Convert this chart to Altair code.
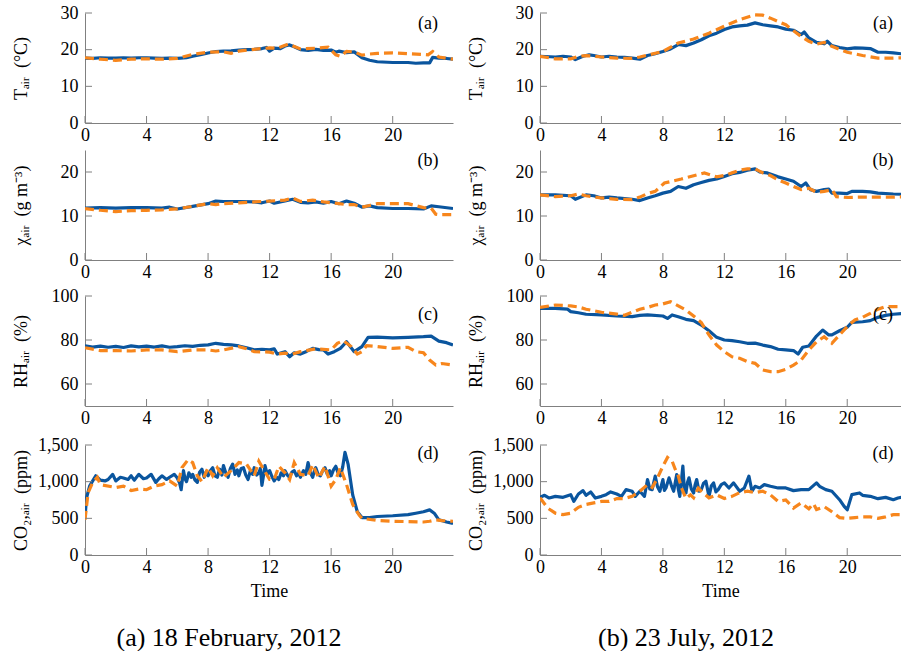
import altair as alt
import pandas as pd

BLUE = "#0a559e"
ORANGE = "#f7861c"
GRAY = "#808080"
FONT = "Liberation Serif"

XTICKS = [0, 4, 8, 12, 16, 20]

# ---------------- 18 February 2012 (left column) ----------------
feb_T_meas_h = [0, 0.5, 1, 1.5, 2, 2.5, 3, 3.5, 4, 4.5, 5, 5.5, 6, 6.6, 7, 7.5, 8, 8.5, 9, 9.5, 10, 10.5, 11, 11.5, 11.8, 12, 12.3, 12.7, 13, 13.3, 13.6, 14, 14.5, 15, 15.5, 16, 16.3, 16.5, 17, 17.5, 18, 18.5, 19, 20, 21, 21.5, 22, 22.4, 22.6, 23, 23.5, 23.92]
feb_T_meas_v = [17.7, 17.6, 17.8, 17.7, 17.7, 17.8, 17.7, 17.8, 17.8, 17.7, 17.6, 17.7, 17.6, 17.8, 18.2, 18.6, 19.1, 19.5, 19.6, 19.7, 19.9, 20.0, 20.1, 20.3, 20.6, 19.6, 20.4, 20.3, 21.0, 21.3, 20.8, 20.0, 19.8, 20.1, 19.8, 19.9, 19.3, 19.6, 19.2, 19.4, 17.8, 17.1, 16.7, 16.5, 16.5, 16.3, 16.4, 16.4, 17.9, 17.7, 17.6, 17.4]
feb_T_sim_h = [0, 1, 2, 3, 4, 5, 6, 7, 8, 9, 9.5, 10, 11, 12, 12.5, 13.2, 14, 15, 15.8, 16.3, 16.6, 17, 17.5, 18, 18.5, 19, 20, 21, 22, 22.3, 22.6, 23, 23.92]
feb_T_sim_v = [17.8, 17.4, 17.1, 17.4, 17.5, 17.4, 17.6, 18.7, 19.3, 19.4, 19.0, 19.6, 20.1, 20.5, 20.4, 21.5, 20.2, 20.4, 20.7, 18.6, 18.2, 19.5, 19.4, 18.5, 18.8, 19.0, 19.1, 18.9, 18.7, 18.6, 19.5, 18.0, 17.4]

feb_X_meas_h = [0, 1, 2, 3, 4, 5, 5.5, 6, 7, 8, 8.5, 9, 10, 11, 11.5, 12, 12.3, 13, 13.5, 14, 14.5, 15, 15.5, 16, 16.5, 17, 17.5, 18, 18.5, 19, 20, 21, 22, 22.5, 23, 23.92]
feb_X_meas_v = [11.8, 11.9, 11.8, 11.9, 11.9, 11.8, 12.0, 11.6, 12.2, 12.8, 13.4, 13.3, 13.3, 13.2, 13.0, 13.4, 12.9, 13.4, 13.8, 13.1, 13.0, 13.2, 12.9, 13.3, 12.8, 13.4, 12.9, 12.0, 12.3, 11.9, 11.7, 11.7, 11.6, 12.3, 12.1, 11.7]
feb_X_sim_h = [0, 1, 2, 3, 4, 5, 6, 7, 8, 8.5, 9, 10, 11, 12, 13, 13.5, 14, 14.8, 15.5, 16, 16.5, 17, 17.5, 18, 18.5, 19, 20, 21, 22, 22.5, 22.8, 23, 23.92]
feb_X_sim_v = [11.7, 11.3, 11.0, 11.2, 11.3, 11.4, 11.6, 12.2, 12.8, 12.6, 12.8, 13.0, 13.2, 13.4, 13.6, 14.1, 13.3, 13.6, 13.2, 13.0, 12.8, 12.6, 12.6, 12.0, 12.4, 12.8, 12.8, 12.8, 11.9, 11.8, 10.4, 10.3, 10.3]

feb_RH_meas_h = [0, 0.5, 1, 1.5, 2, 2.5, 3, 3.5, 4, 4.5, 5, 5.5, 6, 6.5, 7, 7.5, 8, 8.5, 9, 9.5, 10, 10.5, 11, 11.5, 12, 12.3, 12.5, 13, 13.3, 13.6, 14, 14.4, 14.8, 15.2, 15.5, 15.8, 16.2, 16.6, 17, 17.5, 18, 18.4, 19, 20, 21, 22, 22.5, 23, 23.5, 23.92]
feb_RH_meas_v = [77.3, 76.8, 77.2, 76.7, 77.1, 76.6, 77.3, 76.9, 77.2, 76.8, 77.3, 76.7, 77.0, 77.4, 77.1, 77.6, 77.8, 78.5, 78.0, 77.8, 77.3, 76.5, 75.5, 75.8, 75.5, 76.0, 73.6, 74.7, 72.4, 74.2, 73.6, 74.8, 76.2, 75.6, 75.5, 73.6, 74.7, 76.2, 79.2, 74.7, 77.0, 81.2, 81.3, 81.0, 81.2, 81.5, 81.8, 79.5, 78.8, 77.7]
feb_RH_sim_h = [0, 1, 2, 3, 4, 5, 6, 7, 8, 8.5, 9, 10, 10.5, 11, 12, 12.5, 13, 13.5, 14, 15, 16, 16.4, 16.8, 17.3, 17.7, 18, 18.3, 19, 20, 21, 21.5, 22, 22.4, 22.8, 23.2, 23.92]
feb_RH_sim_v = [76.5, 75.2, 75.2, 75.0, 75.5, 75.5, 74.7, 75.5, 75.5, 75.0, 75.5, 77.0, 76.0, 74.7, 74.5, 73.6, 74.0, 73.6, 74.7, 76.0, 75.5, 78.5, 79.7, 77.0, 73.6, 74.7, 77.4, 77.0, 76.2, 76.7, 74.7, 74.2, 70.9, 68.6, 69.3, 68.6]

feb_CO2_meas_h = [0, 0.1, 0.3, 0.5, 0.7, 1, 1.3, 1.5, 1.8, 2, 2.3, 2.5, 2.8, 3, 3.2, 3.5, 3.8, 4, 4.3, 4.6, 4.8, 5, 5.3, 5.5, 5.8,
                  6.0, 6.15, 6.25, 6.4, 6.5, 6.6, 6.75, 6.9, 7.0, 7.15, 7.3, 7.45, 7.6, 7.75, 7.9, 8.0, 8.15, 8.3, 8.45, 8.6, 8.75, 8.9,
                  9.0, 9.15, 9.3, 9.45, 9.6, 9.75, 9.9, 10.0, 10.15, 10.3, 10.45, 10.6, 10.75, 10.9, 11.0, 11.15, 11.3, 11.4, 11.5, 11.6,
                  11.7, 11.85, 12.0, 12.15, 12.3, 12.45, 12.6, 12.75, 12.9, 13.0, 13.15, 13.3, 13.45, 13.6, 13.75, 13.9, 14.0, 14.2,
                  14.35, 14.5, 14.65, 14.8, 14.9, 15.0, 15.15, 15.3, 15.45, 15.6, 15.75, 15.9, 16.0, 16.15, 16.3, 16.45, 16.6, 16.75,
                  16.9, 17.1, 17.4, 17.7, 18, 18.5, 19, 20, 21, 21.5, 22, 22.4, 22.7, 23, 23.5, 23.92]
feb_CO2_meas_v = [510, 780, 940, 1010, 1080, 1020, 1010, 1030, 1100, 1010, 1060, 1050, 1030, 1080, 1020, 1100, 1040, 1050, 1100, 990, 1040, 1080, 1030, 1060, 1100,
                  1050, 980, 890, 1150, 1040, 1000, 1120, 1060, 1100, 1020, 990, 1130, 1170, 1060, 1140, 1080, 1150, 1190, 1080, 1060, 1170, 1090,
                  1220, 1120, 1060, 1180, 1240, 1100, 1160, 1080, 1180, 1190, 1090, 1030, 1150, 1100, 1190, 1090, 1120, 1180, 950, 1080,
                  1220, 1100, 1150, 1070, 1010, 1060, 1030, 1120, 1080, 1150, 1090, 1060, 1130, 1150, 1080, 1120, 1060, 1150,
                  1100, 1260, 1120, 1060, 1140, 1190, 1100, 1080, 1150, 1190, 1100, 1150, 1080, 1160, 1210, 1120, 1080, 1200,
                  1400, 1240, 820, 590, 510, 510, 525, 535, 550, 570, 590, 615, 570, 480, 450, 430]
feb_CO2_sim_h = [0, 0.2, 0.5, 0.8, 1, 2, 2.5, 3, 3.5, 4, 4.5, 5, 5.5, 6, 6.3, 6.7, 7, 7.3, 7.6, 8, 8.3, 8.6, 9, 9.5, 10, 10.5, 11, 11.3, 11.6, 12, 12.3, 12.6, 13, 13.3, 13.6, 14, 14.5, 14.8, 15.2, 15.6, 16, 16.3, 16.6, 17, 17.4, 17.8, 18, 19, 20, 21, 22, 22.4, 22.8, 23.2, 23.92]
feb_CO2_sim_v = [480, 850, 990, 1060, 960, 920, 940, 880, 900, 890, 940, 960, 1010, 940, 1190, 1300, 1260, 1080, 1000, 1190, 1080, 1190, 1060, 1150, 1260, 1240, 1080, 1280, 1170, 1030, 1030, 1210, 1120, 1030, 1260, 1100, 1080, 1230, 1050, 1210, 940, 1030, 1190, 960, 690, 550, 500, 470, 460, 455, 450, 460, 480, 470, 460]

# ---------------- 23 July 2012 (right column) ----------------
jul_T_meas_h = [0, 1, 1.5, 2, 2.3, 2.8, 3.2, 3.5, 4, 4.5, 5, 5.5, 6, 6.5, 7, 7.5, 8, 8.5, 9, 9.5, 10, 10.5, 11, 11.5, 12, 12.5, 13, 13.5, 14, 14.5, 15, 15.5, 16, 16.5, 17, 17.2, 17.5, 18, 18.5, 18.7, 19, 19.5, 20, 20.5, 21, 21.5, 22, 22.5, 23, 23.92]
jul_T_meas_v = [18.2, 18.0, 18.2, 18.0, 17.3, 18.2, 18.6, 18.4, 18.0, 18.2, 18.0, 17.9, 17.7, 17.4, 18.4, 18.9, 19.5, 20.2, 21.4, 21.1, 21.8, 22.7, 23.8, 24.5, 25.5, 26.2, 26.5, 26.7, 27.3, 26.8, 26.5, 26.2, 25.6, 25.3, 24.1, 24.8, 23.2, 22.0, 21.6, 22.3, 21.1, 20.6, 20.2, 20.5, 20.4, 20.3, 19.3, 19.3, 19.1, 18.7]
jul_T_sim_h = [0, 1, 2, 2.5, 3, 4, 5, 6, 6.5, 7, 8, 9, 10, 11, 12, 13, 14, 14.5, 15, 16, 17, 17.5, 18, 18.5, 19, 20, 21, 22, 23, 23.92]
jul_T_sim_v = [18.2, 17.5, 17.5, 18.2, 18.4, 18.0, 17.7, 17.6, 18.0, 18.5, 19.5, 21.8, 22.9, 24.5, 26.4, 28.2, 29.5, 29.4, 28.6, 26.8, 23.6, 22.3, 21.5, 22.0, 20.9, 19.3, 18.4, 17.7, 17.7, 17.8]

jul_X_meas_h = [0, 1, 2, 2.3, 3, 3.5, 4, 4.5, 5, 6, 6.5, 7, 7.5, 8, 8.5, 9, 9.5, 10, 10.5, 11, 11.5, 12, 12.5, 13, 13.5, 14, 14.3, 14.8, 15.5, 16, 16.5, 17, 17.3, 17.6, 18, 18.5, 18.8, 19, 19.5, 20, 20.3, 21, 21.5, 22, 23, 23.92]
jul_X_meas_v = [14.8, 14.8, 14.6, 13.8, 14.8, 14.6, 14.1, 14.3, 14.1, 13.8, 13.5, 14.1, 14.6, 15.2, 15.6, 16.7, 16.3, 17.1, 17.6, 18.1, 18.4, 19.0, 19.6, 19.9, 20.4, 20.7, 20.0, 19.8, 18.9, 18.4, 17.9, 16.7, 17.5, 16.0, 15.6, 16.0, 16.1, 15.2, 15.2, 15.1, 15.6, 15.6, 15.5, 15.2, 15.0, 14.9]
jul_X_sim_h = [0, 1, 2, 2.5, 3, 4, 5, 6, 6.5, 7, 7.5, 8.1, 9.2, 10.7, 11.5, 12, 12.5, 13, 13.5, 14, 14.5, 15, 15.5, 16, 16.5, 17, 17.5, 18, 18.5, 19, 19.3, 20, 21, 22, 23, 23.92]
jul_X_sim_v = [14.8, 14.4, 14.6, 15.0, 14.6, 14.1, 13.8, 13.7, 14.3, 15.1, 15.6, 17.5, 18.4, 19.8, 18.9, 19.2, 19.8, 20.4, 20.7, 20.7, 19.8, 19.2, 18.2, 17.5, 16.7, 16.0, 16.3, 15.4, 15.6, 16.0, 14.4, 14.2, 14.3, 14.3, 14.3, 14.4]

jul_RH_meas_h = [0, 1, 1.8, 2, 2.5, 3, 4, 5, 6, 6.5, 7, 8, 8.3, 8.6, 9, 9.5, 10, 10.5, 11, 11.5, 12, 12.5, 13, 13.5, 14, 14.5, 15, 15.5, 16, 16.5, 16.8, 17.1, 17.5, 18, 18.4, 18.8, 19, 19.5, 20, 20.3, 21, 21.5, 22, 22.5, 23, 23.92]
jul_RH_meas_v = [94.4, 94.4, 94.0, 92.9, 92.4, 91.7, 91.4, 90.9, 90.6, 91.2, 91.4, 90.9, 89.8, 91.4, 90.6, 89.4, 88.8, 86.8, 84.2, 81.2, 80.0, 79.7, 79.2, 78.5, 78.6, 77.7, 77.0, 75.8, 75.5, 75.2, 73.6, 76.7, 77.3, 81.8, 84.5, 82.3, 82.3, 84.2, 85.8, 88.0, 88.3, 88.8, 90.3, 91.2, 91.7, 92.3]
jul_RH_sim_h = [0, 1, 2, 2.5, 3, 4, 5, 5.5, 6, 6.5, 7, 7.5, 8, 8.5, 9, 9.5, 10, 10.5, 11, 11.5, 12, 12.5, 13, 13.5, 14, 14.5, 15, 15.5, 16, 16.5, 17, 17.5, 18, 18.5, 19, 19.5, 20, 20.5, 21, 21.5, 22, 22.5, 23, 23.92]
jul_RH_sim_v = [94.8, 95.9, 95.5, 95.0, 94.0, 92.6, 91.8, 91.2, 92.6, 94.0, 94.8, 95.9, 96.4, 97.4, 95.5, 93.6, 90.9, 87.9, 82.3, 77.7, 74.7, 72.4, 71.7, 70.2, 69.4, 66.4, 65.6, 65.6, 66.7, 68.6, 70.9, 75.5, 79.2, 81.5, 78.5, 82.3, 86.1, 89.1, 90.3, 92.1, 94.0, 95.2, 95.2, 95.2]

jul_CO2_meas_h = [0, 0.3, 0.6, 1, 1.5, 2, 2.2, 2.5, 2.8, 3, 3.3, 3.6, 4, 4.3, 4.6, 5, 5.3, 5.6, 6, 6.2, 6.5, 6.8, 7, 7.15, 7.3, 7.5, 7.65, 7.8, 8, 8.1, 8.2, 8.4, 8.55, 8.7, 8.9, 9.0, 9.1, 9.2, 9.3, 9.4, 9.5, 9.6, 9.7, 9.85, 10, 10.1, 10.2, 10.35, 10.5, 10.65, 10.8, 11, 11.15, 11.3, 11.45, 11.6, 11.8, 12, 12.3, 12.6, 13, 13.3, 13.6, 13.8, 14, 14.3, 14.6, 15, 15.5, 16, 16.5, 17, 17.5, 18, 18.2, 18.6, 19, 19.5, 19.8, 20, 20.3, 20.8, 21, 21.5, 22, 22.5, 23, 23.3, 23.92]
jul_CO2_meas_v = [786, 814, 777, 800, 786, 823, 732, 832, 878, 814, 860, 777, 800, 823, 860, 832, 800, 892, 869, 800, 869, 800, 1029, 900, 892, 1075, 930, 869, 1029, 880, 914, 1052, 950, 869, 1097, 900, 800, 1000, 1212, 880, 846, 990, 1052, 900, 846, 960, 1029, 870, 892, 980, 1006, 800, 940, 983, 860, 892, 960, 983, 914, 983, 869, 914, 1075, 869, 937, 914, 960, 937, 914, 914, 878, 892, 892, 983, 937, 892, 869, 754, 663, 617, 823, 846, 814, 800, 768, 786, 754, 777, 800]
jul_CO2_sim_h = [0, 0.5, 1, 1.5, 2, 2.5, 3, 3.5, 4, 4.5, 5, 5.5, 6, 6.5, 7, 7.3, 7.6, 8, 8.3, 8.6, 8.8, 9, 9.2, 9.5, 9.8, 10, 10.3, 10.6, 11, 11.5, 12, 12.5, 13, 13.5, 14, 14.5, 15, 15.5, 16, 16.5, 17, 17.5, 17.8, 18, 18.5, 19, 19.5, 20, 20.5, 21, 21.5, 22, 22.5, 23, 23.92]
jul_CO2_sim_v = [780, 640, 570, 550, 570, 650, 690, 710, 730, 730, 770, 770, 800, 870, 960, 920, 1030, 1210, 1330, 1280, 1170, 1080, 920, 770, 820, 780, 910, 850, 780, 820, 770, 800, 850, 870, 850, 870, 820, 730, 750, 640, 710, 630, 700, 620, 660, 590, 510, 500, 510, 520, 520, 500, 520, 550, 550]

H = 110
SP = "\u2002"


def panel(mh, mv, sh, sv, xmax, width, ydom, yticks, ytitle, tag, tagy,
          bottom=False, caption=None, capx=0, yfmt="d"):
    xs = alt.Scale(domain=[0, xmax], nice=False, zero=False)
    ys = alt.Scale(domain=ydom, nice=False, zero=False)
    if bottom:
        xaxis = alt.Axis(values=XTICKS, title="Time", titleX=width / 2, titleY=41,
                         titleBaseline="alphabetic", labelFlush=False)
    else:
        xaxis = alt.Axis(values=XTICKS, title=None, labelFlush=False)
    yaxis = alt.Axis(values=yticks, title=ytitle, format=yfmt)
    X = alt.X("h:Q", scale=xs, axis=xaxis)
    Y = alt.Y("v:Q", scale=ys, axis=yaxis)

    meas = alt.Chart(pd.DataFrame({"h": mh, "v": mv})).mark_line(
        color=BLUE, strokeWidth=3.2, clip=True, strokeJoin="round").encode(x=X, y=Y)
    sim = alt.Chart(pd.DataFrame({"h": sh, "v": sv})).mark_line(
        color=ORANGE, strokeWidth=3.2, strokeDash=[9, 5], clip=True).encode(x=X, y=Y)
    xt = alt.Chart(pd.DataFrame({"h": XTICKS})).mark_rule(color=GRAY, strokeWidth=1).encode(
        x=X, y=alt.value(H), y2=alt.value(H - 7))
    yt = alt.Chart(pd.DataFrame({"v": yticks})).mark_rule(color=GRAY, strokeWidth=1).encode(
        y=Y, x=alt.value(0), x2=alt.value(7))
    lab = alt.Chart(pd.DataFrame({"t": [tag]})).mark_text(
        font=FONT, fontSize=18, align="center", baseline="middle", color="black").encode(
        text="t:N", x=alt.value(343), y=alt.value(tagy))
    layers = [meas, sim, xt, yt, lab]
    if caption:
        cap = alt.Chart(pd.DataFrame({"t": [caption]})).mark_text(
            font=FONT, fontSize=26, align="center", baseline="middle", color="black").encode(
            text="t:N", x=alt.value(capx), y=alt.value(193))
        spacer = alt.Chart(pd.DataFrame({"t": ["."]})).mark_text(
            fontSize=2, opacity=0, baseline="middle").encode(
            text="t:N", x=alt.value(0), y=alt.value(-11))
        layers += [cap, spacer]
    return alt.layer(*layers).properties(width=width, height=H)


def column(d, xmax, width, caption, capx):
    (Tm, Ts, Xm, Xs, Rm, Rs, Cm, Cs) = d
    p1 = panel(Tm[0], Tm[1], Ts[0], Ts[1], xmax, width, [0, 30], [0, 10, 20, 30],
               "Tₐᵢᵣ" + SP + "(°C)", "(a)", 11)
    p2 = panel(Xm[0], Xm[1], Xs[0], Xs[1], xmax, width, [0, 25], [0, 10, 20],
               "χₐᵢᵣ" + SP + "(g m⁻³)", "(b)", 11)
    p3 = panel(Rm[0], Rm[1], Rs[0], Rs[1], xmax, width, [50, 100], [60, 80, 100],
               "RHₐᵢᵣ" + SP + "(%)", "(c)", 19)
    p4 = panel(Cm[0], Cm[1], Cs[0], Cs[1], xmax, width, [0, 1500], [0, 500, 1000, 1500],
               "CO₂,ₐᵢᵣ" + SP + "(ppm)", "(d)", 9, bottom=True, caption=caption, capx=capx,
               yfmt=",d")
    return alt.vconcat(p1, p2, p3, p4, spacing=6)


left = column(((feb_T_meas_h, feb_T_meas_v), (feb_T_sim_h, feb_T_sim_v),
               (feb_X_meas_h, feb_X_meas_v), (feb_X_sim_h, feb_X_sim_v),
               (feb_RH_meas_h, feb_RH_meas_v), (feb_RH_sim_h, feb_RH_sim_v),
               (feb_CO2_meas_h, feb_CO2_meas_v), (feb_CO2_sim_h, feb_CO2_sim_v)),
              23.92, 368, "(a) 18 February, 2012", 144)
right = column(((jul_T_meas_h, jul_T_meas_v), (jul_T_sim_h, jul_T_sim_v),
                (jul_X_meas_h, jul_X_meas_v), (jul_X_sim_h, jul_X_sim_v),
                (jul_RH_meas_h, jul_RH_meas_v), (jul_RH_sim_h, jul_RH_sim_v),
                (jul_CO2_meas_h, jul_CO2_meas_v), (jul_CO2_sim_h, jul_CO2_sim_v)),
               23.5, 361, "(b) 23 July, 2012", 146)

chart = alt.hconcat(left, right, spacing=14).properties(
    padding={"left": 12, "top": 4, "right": 0, "bottom": 0}
).configure_view(strokeWidth=0).configure_axis(
    domainColor=GRAY, domainWidth=1, ticks=False, grid=False,
    labelFont=FONT, labelFontSize=18, labelColor="black",
    titleFont=FONT, titleFontSize=18, titleColor="black", titleFontWeight="normal",
).configure_axisX(labelPadding=3).configure_axisY(
    labelPadding=7, titleX=-59, titleY=H / 2, titleAngle=-90, titleAlign="center",
    titleBaseline="alphabetic")

chart.save("out.html", embed_options={"renderer": "svg", "actions": False})
